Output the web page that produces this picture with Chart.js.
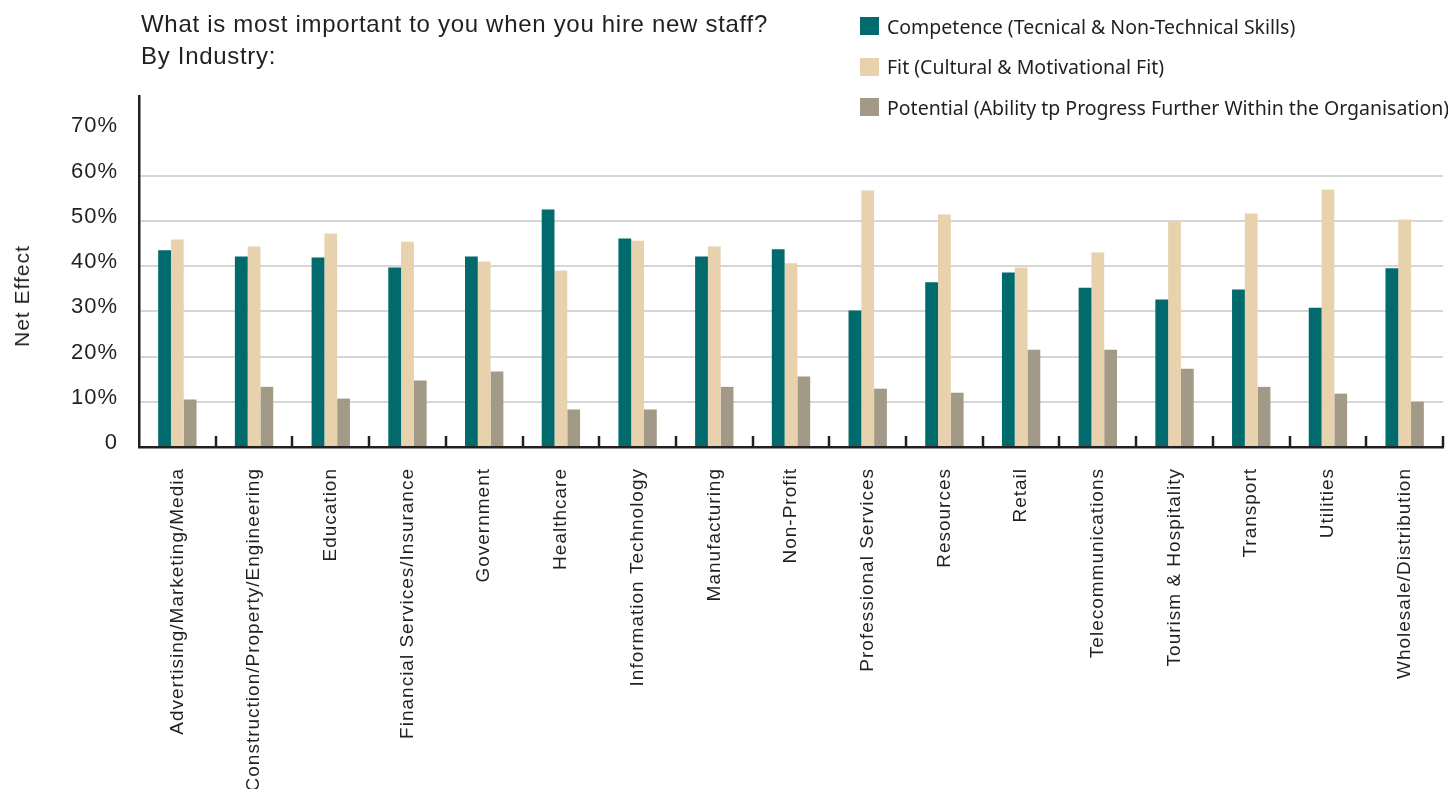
<!DOCTYPE html>
<html>
<head>
<meta charset="utf-8">
<script src="https://cdn.jsdelivr.net/npm/chart.js@4.4.1/dist/chart.umd.min.js"></script>
<style>
  html, body { margin: 0; padding: 0; background: #ffffff; }
  body { width: 1448px; height: 789px; position: relative; overflow: hidden; }
  #wrap { position: absolute; left: 0; top: 0; width: 1448px; height: 789px; }
  #title { position: absolute; left: 141px; top: 8px; font-family: "Liberation Sans", Arial, sans-serif;
           font-size: 24px; line-height: 31.6px; letter-spacing: 0.7px; color: #231f20; white-space: nowrap; }
  #ytitle { position: absolute; left: 22px; top: 296px; transform: translate(-50%, -50%) rotate(-90deg);
            font-family: "Liberation Sans", Arial, sans-serif; font-size: 21px; letter-spacing: 1px;
            color: #231f20; white-space: nowrap; }
  .leg { position: absolute; left: 860px; height: 40px; display: flex; align-items: center; white-space: nowrap; }
  .leg .sw { width: 19px; height: 18px; margin-right: 8px; flex: none; }
  .leg .tx { font-family: "Noto Sans", sans-serif; font-size: 19.5px; color: #231f20; }
</style>
</head>
<body>
<div id="wrap"><canvas id="c" width="1448" height="789"></canvas></div>
<div id="title">What is most important to you when you hire new staff?<br>By Industry:</div>
<div id="ytitle">Net Effect</div>
<div id="legend"></div>
<script>
const categories = [
  "Advertising/Marketing/Media",
  "Construction/Property/Engineering",
  "Education",
  "Financial Services/Insurance",
  "Government",
  "Healthcare",
  "Information Technology",
  "Manufacturing",
  "Non-Profit",
  "Professional Services",
  "Resources",
  "Retail",
  "Telecommunications",
  "Tourism & Hospitality",
  "Transport",
  "Utilities",
  "Wholesale/Distribution"
];
const seriesNames = [
  "Competence (Tecnical & Non-Technical Skills)",
  "Fit (Cultural & Motivational Fit)",
  "Potential (Ability tp Progress Further Within the Organisation)"
];
const competence = [43.5, 42.1, 41.9, 39.7, 42.1, 52.5, 46.1, 42.1, 43.7, 30.2, 36.4, 38.6, 35.2, 32.6, 34.8, 30.8, 39.5];
const fit        = [45.9, 44.3, 47.2, 45.4, 41.0, 39.0, 45.6, 44.3, 40.6, 56.7, 51.4, 39.7, 43.0, 49.9, 51.6, 56.9, 50.3];
const potential  = [10.5, 13.3, 10.7, 14.7, 16.7,  8.3,  8.3, 13.3, 15.6, 12.9, 12.0, 21.5, 21.5, 17.3, 13.3, 11.8, 10.0];
const yTickValues = [0, 10, 20, 30, 40, 50, 60, 70];
const seriesColors = ["#006a6c", "#e8d1ad", "#a29987"];

const INK = "#231f20";

const spacingPlugin = {
  id: "spacing",
  beforeLayout(chart) { chart.ctx.letterSpacing = "1px"; },
  beforeDraw(chart) { chart.ctx.letterSpacing = "1px"; }
};

const tickMarks = {
  id: "tickMarks",
  afterDraw(chart) {
    const xs = chart.scales.x;
    const ctx = chart.ctx;
    const bottom = chart.chartArea.bottom;
    ctx.save();
    ctx.strokeStyle = INK;
    ctx.lineWidth = 2.5;
    for (let i = 1; i <= categories.length; i++) {
      const x = Math.round(xs.getPixelForValue(i - 0.5));
      ctx.beginPath();
      ctx.moveTo(x, bottom - 11);
      ctx.lineTo(x, bottom);
      ctx.stroke();
    }
    ctx.restore();
  }
};

const data = {
  labels: categories,
  datasets: [
    { label: seriesNames[0], data: competence, backgroundColor: seriesColors[0] },
    { label: seriesNames[1], data: fit, backgroundColor: seriesColors[1] },
    { label: seriesNames[2], data: potential, backgroundColor: seriesColors[2] }
  ]
};

const chart = new Chart(document.getElementById("c"), {
  type: "bar",
  data,
  plugins: [spacingPlugin, tickMarks],
  options: {
    responsive: false,
    animation: false,
    devicePixelRatio: 1,
    layout: { padding: { top: 96, right: 5, left: 0, bottom: 0 } },
    datasets: { bar: { barPercentage: 1.0, categoryPercentage: 0.5, borderWidth: 0 } },
    plugins: { legend: { display: false }, tooltip: { enabled: false }, title: { display: false } },
    scales: {
      x: {
        offset: true,
        grid: { display: false, drawTicks: false },
        border: { display: true, color: INK, width: 2.5 },
        ticks: {
          autoSkip: false, maxRotation: 90, minRotation: 90, padding: 21,
          color: INK, font: { family: "'Liberation Sans', Arial, sans-serif", size: 19 }
        },
        afterFit(scale) { scale.height = 342; scale.paddingLeft = 0; scale.paddingRight = 0; }
      },
      y: {
        min: 0, max: 77.6,
        afterBuildTicks(scale) { scale.ticks = yTickValues.map(v => ({ value: v })); },
        grid: {
          drawTicks: false, lineWidth: 2,
          color: (ctx) => (ctx.tick && (ctx.tick.value === 0 || ctx.tick.value === 70)) ? "rgba(0,0,0,0)" : "#d6d6d6"
        },
        border: { display: true, color: INK, width: 2.5 },
        ticks: {
          padding: 21, labelOffset: -4, color: INK,
          font: { family: "'Liberation Sans', Arial, sans-serif", size: 22 },
          callback: (v) => v === 0 ? "0" : v + "%"
        },
        afterFit(scale) { scale.width = 139; }
      }
    }
  }
});

// HTML legend built from the chart's datasets
const legend = document.getElementById("legend");
const rowCenters = [26, 66.5, 107];
chart.data.datasets.forEach((ds, i) => {
  const row = document.createElement("div");
  row.className = "leg";
  row.style.top = (rowCenters[i] - 20) + "px";
  const sw = document.createElement("div");
  sw.className = "sw";
  sw.style.background = ds.backgroundColor;
  const tx = document.createElement("span");
  tx.className = "tx";
  tx.textContent = ds.label;
  row.appendChild(sw); row.appendChild(tx);
  legend.appendChild(row);
});
</script>
</body>
</html>
